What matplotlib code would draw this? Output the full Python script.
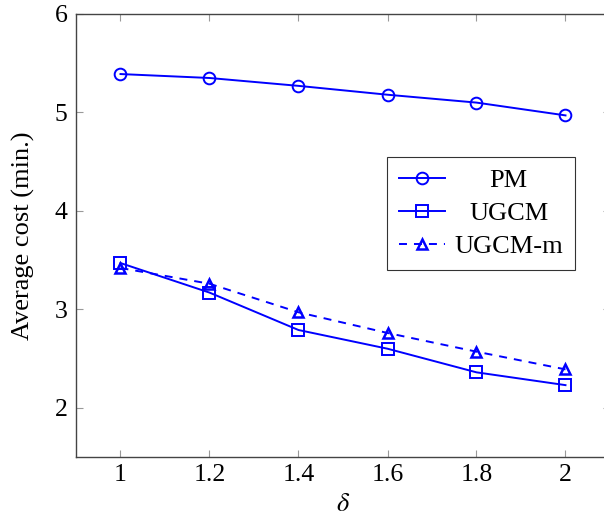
import matplotlib

matplotlib.use("Agg")
import matplotlib.pyplot as plt

delta = [1.0, 1.2, 1.4, 1.6, 1.8, 2.0]
pm = [5.39, 5.35, 5.27, 5.18, 5.10, 4.97]
ugcm = [3.47, 3.17, 2.79, 2.60, 2.36, 2.23]
ugcm_m = [3.42, 3.26, 2.97, 2.76, 2.57, 2.39]

xticks = [1, 1.2, 1.4, 1.6, 1.8, 2]
xtick_labels = ["1", "1.2", "1.4", "1.6", "1.8", "2"]
yticks = [2, 3, 4, 5, 6]

plt.rcParams["font.family"] = ["Liberation Serif", "DejaVu Serif"]
plt.rcParams["mathtext.fontset"] = "stix"

fig = plt.figure(figsize=(6.04, 5.2), dpi=100)
ax = fig.add_axes([76 / 604, 1 - 457 / 520, (610 - 76) / 604, (457 - 14) / 520])

blue = "#0000ff"
lw = 1.4
ax.plot(delta, pm, color=blue, lw=lw, marker="o", ms=8.4, mfc="none", mew=lw, label="PM")
ax.plot(delta, ugcm, color=blue, lw=lw, marker="s", ms=8.8, mfc="none", mew=lw, label="UGCM")
ax.plot(delta, ugcm_m, color=blue, lw=lw, ls=(0, (4.1, 3.6)), marker="^", ms=7,
        mfc="none", mew=1.8, label="UGCM-m")

ax.set_xlim(0.9, 2.1)
ax.set_ylim(1.5, 6)
ax.set_xticks(xticks)
ax.set_xticklabels(xtick_labels)
ax.set_yticks(yticks)
ax.tick_params(direction="in", top=True, right=True, length=5, width=0.8,
               color="#999999", labelsize=18.5)
ax.tick_params(axis="x", pad=5)
ax.tick_params(axis="y", pad=6)
for sp in ax.spines.values():
    sp.set_color("#444444")
    sp.set_linewidth(1.0)

ax.set_xlabel(r"$\delta$", fontsize=19, labelpad=6)
ax.set_ylabel("Average cost (min.)", fontsize=19, labelpad=14)

leg = ax.legend(loc="upper left", bbox_to_anchor=((387 - 76) / 534, 1 - (157 - 14) / 443),
                fontsize=19, frameon=True, fancybox=False, edgecolor="black",
                handlelength=1.75, borderaxespad=0, labelspacing=0.36, handletextpad=0.35,
                borderpad=0.45)
leg.get_frame().set_linewidth(0.8)

# centre the legend entries like the original
fig.canvas.draw()
renderer = fig.canvas.get_renderer()
widths = [t.get_window_extent(renderer).width for t in leg.get_texts()]
wmax = max(widths)
for t, w in zip(leg.get_texts(), widths):
    t.set_x((wmax - w) / 2)

fig.savefig("out.png", dpi=100)
